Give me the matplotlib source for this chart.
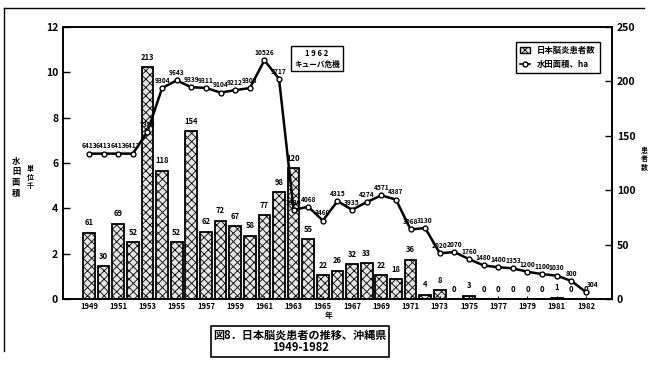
import matplotlib
matplotlib.use("Agg")
import matplotlib.pyplot as plt
from matplotlib.lines import Line2D
from matplotlib.patches import Patch

plt.rcParams["font.family"] = ["Noto Sans CJK JP", "DejaVu Sans"]
plt.rcParams["font.weight"] = "bold"
plt.rcParams["hatch.color"] = "#707070"
plt.rcParams["hatch.linewidth"] = 0.6

# 患者数 (bars, right axis) and 水田面積 ha (line, left axis in thousands)
PATIENTS = [61, 30, 69, 52, 213, 118, 52, 154, 62, 72, 67, 58, 77, 98, 120, 55,
            22, 26, 32, 33, 22, 18, 36, 4, 8, 0, 3, 0, 0, 0, 0, 0, 1, 0, 0]
PADDY_HA = [6413, 6413, 6413, 6413, 7380, 9304, 9643, 9339, 9311, 9104, 9212,
            9303, 10526, 9717, 3930, 4068, 3460, 4315, 3935, 4274, 4571, 4387,
            3068, 3130, 2020, 2070, 1760, 1480, 1400, 1353, 1200, 1100, 1030,
            800, 304]
TICK_LABELS = ["1949", "1951", "1953", "1955", "1957", "1959", "1961", "1963",
               "1965", "1967", "1969", "1971", "1973", "1975", "1977", "1979",
               "1981", "1982"]

x = list(range(len(PATIENTS)))
paddy_k = [v / 1000 for v in PADDY_HA]

fig = plt.figure(figsize=(6.51, 3.69), dpi=100)
ax = fig.add_axes([0.0968, 0.1897, 0.8432, 0.7373])
ax2 = ax.twinx()
ax.set_zorder(ax2.get_zorder() + 1)
ax.patch.set_visible(False)

ax2.bar(x, PATIENTS, width=0.8, color="#e6e6e6", edgecolor="black",
        linewidth=1.3, hatch="xxxx")
for xi, v in zip(x, PATIENTS):
    ax2.text(xi, v + 5, str(v), ha="center", va="bottom", fontsize=5.5,
             fontweight="bold")

ax.plot(x, paddy_k, color="black", linewidth=1.8, marker="o", markersize=3.5,
        markerfacecolor="white", markeredgecolor="black", markeredgewidth=1)
for i, (xi, v, raw) in enumerate(zip(x, paddy_k, PADDY_HA)):
    dx = 5 if i == len(x) - 1 else 0
    ax.annotate(str(raw), (xi, v), xytext=(dx, 3), textcoords="offset points",
                ha="center", va="bottom", fontsize=4.8, fontweight="bold")

ax.set_xlim(-1.78, 35.78)
ax.set_ylim(0, 12)
ax2.set_ylim(0, 250)
ax.set_yticks(range(0, 13, 2))
ax2.set_yticks(range(0, 251, 50))
ax.set_xticks(range(0, len(x), 2))
ax.set_xticklabels(TICK_LABELS)
ax.tick_params(axis="y", direction="in", length=5, width=1, labelsize=7.5)
ax2.tick_params(axis="y", direction="in", length=5, width=1, labelsize=7.5)
ax.tick_params(axis="x", direction="in", length=2, labelsize=5.5, pad=2)
for lab in ax.get_xticklabels() + ax.get_yticklabels() + ax2.get_yticklabels():
    lab.set_fontweight("bold")
for sp in list(ax.spines.values()) + list(ax2.spines.values()):
    sp.set_linewidth(1.2)

handles = [Patch(facecolor="#e6e6e6", edgecolor="black", hatch="xxxx"),
           Line2D([0], [0], color="black", marker="o", markersize=3.5,
                  markerfacecolor="white", linewidth=1.2)]
leg = ax.legend(handles, ["日本脳炎患者数", "水田面積、ha"], loc="upper right",
                bbox_to_anchor=(0.985, 0.96), fontsize=6, fancybox=False,
                edgecolor="black", framealpha=1, handlelength=1.2,
                borderpad=0.5, labelspacing=0.6)
leg.get_frame().set_linewidth(1)
for t in leg.get_texts():
    t.set_fontweight("bold")

ax.text(15.6, 10.6, "1 9 6 2\nキューバ危機", ha="center", va="center",
        fontsize=5.5, fontweight="bold", linespacing=1.3,
        bbox=dict(boxstyle="square,pad=0.35", facecolor="white",
                  edgecolor="black", linewidth=1))

fig.text(0.025, 0.52, "水\n田\n面\n積", ha="center", va="center", fontsize=6,
         fontweight="bold", linespacing=1.25)
fig.text(0.047, 0.52, "単\n位\n千", ha="center", va="center", fontsize=5,
         fontweight="bold", linespacing=1.25)
fig.text(0.99, 0.57, "患\n者\n数", ha="center", va="center", fontsize=5,
         fontweight="bold", linespacing=1.25)
fig.text(0.505, 0.145, "年", ha="center", va="center", fontsize=5.5,
         fontweight="bold")
fig.text(0.461, 0.075, "図8．日本脳炎患者の推移、沖縄県\n1949-1982",
         ha="center", va="center", fontsize=8, fontweight="bold",
         linespacing=1.0,
         bbox=dict(boxstyle="square,pad=0.2", facecolor="white",
                   edgecolor="black", linewidth=1.2))

fig.add_artist(Line2D([0.006, 0.99], [0.978, 0.978], color="black",
                      linewidth=1, transform=fig.transFigure))
fig.add_artist(Line2D([0.006, 0.006], [0.978, 0.05], color="black",
                      linewidth=1, transform=fig.transFigure))

fig.savefig("out.png", dpi=100)
